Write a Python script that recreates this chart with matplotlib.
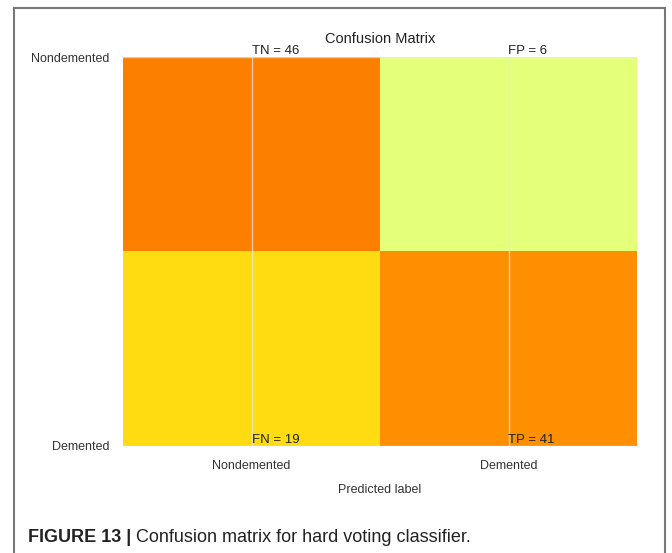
import matplotlib
matplotlib.use("Agg")
import matplotlib.pyplot as plt
from matplotlib.lines import Line2D
import numpy as np

class_labels = ['Nondemented', 'Demented']
cm_values = [[46, 6], [19, 41]]
cell_names = [['TN', 'FP'], ['FN', 'TP']]
title = 'Confusion Matrix'
xlabel = 'Predicted label'
caption_bold = 'FIGURE 13 |'
caption_rest = ' Confusion matrix for hard voting classifier.'

plt.rcParams['font.family'] = ['Liberation Sans', 'DejaVu Sans']

fig = plt.figure(figsize=(6.72, 5.53), dpi=100)
ax = fig.add_axes([123/672, 1-446/553, (637-123)/672, (446-57)/553])

cm = np.array(cm_values)
ax.imshow(cm, cmap='Wistia', aspect='auto', interpolation='nearest')
ax.set_xticks(range(len(class_labels)))
ax.set_xticklabels(class_labels)
ax.set_yticks(range(len(class_labels)))
ax.set_yticklabels(class_labels)
ax.set_ylim(1, 0)
ax.set_xlim(-0.5, 1.5)
ax.tick_params(length=0, labelsize=9, colors='#333333', pad=10)
ax.grid(True, color='#e8e8e8', linewidth=1.0, alpha=0.7)
for s in ax.spines.values():
    s.set_visible(False)
ax.set_title(title, fontsize=10.5, color='#222222', pad=10)
ax.set_xlabel(xlabel, fontsize=9, color='#333333', labelpad=9)

for i in range(2):
    for j in range(2):
        ax.text(j, i, f'{cell_names[i][j]} = {cm[i][j]}', ha='left', va='bottom',
                fontsize=9.5, color='#222222')

# outer frame (open at bottom)
fx0, fx1, fy0 = 14/672, 665/672, 1-8/553
for xs, ys in [([fx0, fx0], [0, fy0]), ([fx0, fx1], [fy0, fy0]), ([fx1, fx1], [fy0, 0])]:
    fig.add_artist(Line2D(xs, ys, transform=fig.transFigure, color='#777777', linewidth=1.5))

r = fig.canvas.get_renderer()
t1 = fig.text(28/672, 1-538/553, caption_bold, fontsize=13, fontweight='bold',
              color='#222222', va='center', ha='left')
bb = t1.get_window_extent(renderer=r)
fig.text(bb.x1/672, 1-538/553, caption_rest, fontsize=13, color='#222222', va='center',
         ha='left')

fig.savefig('out.png', dpi=100)
